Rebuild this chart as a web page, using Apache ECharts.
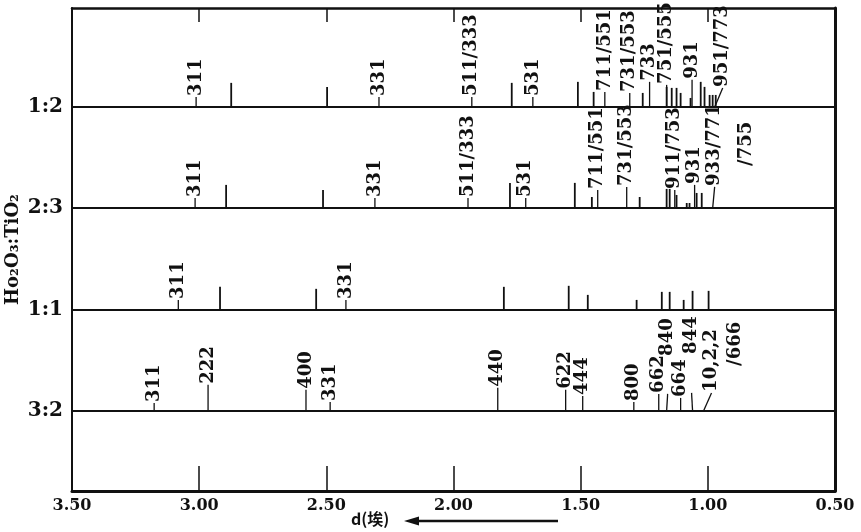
<!DOCTYPE html>
<html>
<head>
<meta charset="utf-8">
<script src="https://cdn.jsdelivr.net/npm/echarts@6.0.0/dist/echarts.min.js"></script>
<style>
  html, body { margin: 0; background: #fff; }
  #chart { width: 861px; height: 532px; }
</style>
</head>
<body>
<div id="chart"></div>
<script>
// Ho2O3:TiO2 ratios, one stick pattern per ratio
const panels = ["1:2", "2:3", "1:1", "3:2"];
const baselines = [3.816, 2.812, 1.799, 0.795];

const xTicks = [3.5, 3.0, 2.5, 2.0, 1.5, 1.0, 0.5];
const xTickLabels = ["3.50", "3.00", "2.50", "2.00", "1.50", "1.00", "0.50"];

// observed lines: d (Å) and relative height
const sticks12D = [2.874, 2.497, 1.771, 1.511, 1.449, 1.256, 1.162, 1.142, 1.123, 1.107, 1.068, 1.028, 1.013, 0.993, 0.981, 0.969];
const sticks12H = [0.24, 0.20, 0.24, 0.25, 0.15, 0.14, 0.20, 0.19, 0.19, 0.14, 0.09, 0.25, 0.20, 0.12, 0.12, 0.12];
const sticks23D = [2.894, 2.513, 1.778, 1.523, 1.456, 1.268, 1.162, 1.150, 1.123, 1.083, 1.072, 1.044, 1.024];
const sticks23H = [0.23, 0.18, 0.25, 0.25, 0.11, 0.11, 0.19, 0.19, 0.13, 0.05, 0.05, 0.15, 0.15];
const sticks11D = [2.918, 2.540, 1.802, 1.547, 1.472, 1.280, 1.181, 1.150, 1.095, 1.060, 0.997];
const sticks11H = [0.23, 0.21, 0.23, 0.24, 0.15, 0.10, 0.18, 0.18, 0.10, 0.19, 0.19];
const sticks32D = [];
const sticks32H = [];

// indexed lines: hkl, d (Å), leader height
const hkl12 = ["311", "331", "511/333", "531", "711/551", "731/553", "733", "751/555", "931", "951/773"];
const hkl12D = [3.012, 2.293, 1.928, 1.688, 1.405, 1.307, 1.229, 1.162, 1.062, 0.973];
const hkl12H = [0.10, 0.10, 0.10, 0.10, 0.15, 0.14, 0.25, 0.22, 0.27, 0.19];
const hkl23 = ["311", "331", "511/333", "531", "711/551", "731/553", "911/753", "931", "933/771"];
const hkl23D = [3.016, 2.309, 1.943, 1.716, 1.433, 1.319, 1.130, 1.052, 0.981];
const hkl23H = [0.10, 0.10, 0.10, 0.10, 0.18, 0.21, 0.18, 0.23, 0.21];
const hkl11 = ["311", "331"];
const hkl11D = [3.082, 2.423];
const hkl11H = [0.10, 0.10];
const hkl32 = ["311", "222", "400", "331", "440", "622", "444", "800", "662", "840", "664", "844", "10,2,2"];
const hkl32D = [3.177, 2.965, 2.580, 2.485, 1.826, 1.559, 1.492, 1.291, 1.193, 1.162, 1.107, 1.060, 1.017];
const hkl32H = [0.08, 0.26, 0.21, 0.09, 0.23, 0.21, 0.15, 0.09, 0.17, 0.17, 0.13, 0.18, 0.18];

// placement tweaks for crowded labels (pixels)
const labelTweaks = {
  "951/773": { dx: 8 },
  "933/771": { dx: 2, extra: { text: "/755", dx: 34, lift: 20 } },
  "840": { dx: 1, lift: 37 },
  "844": { dx: -1, lift: 38 },
  "10,2,2": { dx: 8, extra: { text: "/666", dx: 32, lift: 26 } }
};

const INK = "#111";
const LABEL_FONT = 'bold 18px "DejaVu Serif"';

const stickSets = [[sticks12D, sticks12H], [sticks23D, sticks23H], [sticks11D, sticks11H], [sticks32D, sticks32H]];
const stickData = [];
stickSets.forEach((s, p) => s[0].forEach((d, i) => stickData.push([d, baselines[p], s[1][i]])));

const labelSets = [[hkl12, hkl12D, hkl12H], [hkl23, hkl23D, hkl23H], [hkl11, hkl11D, hkl11H], [hkl32, hkl32D, hkl32H]];
const labelItems = [];
labelSets.forEach((s, p) => s[0].forEach((t, i) => labelItems.push({ value: [s[1][i], baselines[p], s[2][i]], text: t })));

const baseData = baselines.map(b => [3.5, b]);

const renderBase = (params, api) => {
  const b = api.value(1);
  const p0 = api.coord([3.5, b]);
  const p1 = api.coord([0.5, b]);
  return {
    type: "group",
    children: [
      { type: "line", shape: { x1: p0[0], y1: p0[1], x2: p1[0], y2: p1[1] }, style: { stroke: INK, lineWidth: 2 } },
      {
        type: "text", x: p0[0] - 9, y: p0[1],
        style: { text: panels[params.dataIndex], fill: INK, font: 'bold 20px "DejaVu Serif"', align: "right", verticalAlign: "middle" }
      }
    ]
  };
};

const renderStick = (params, api) => {
  const d = api.value(0), b = api.value(1), h = api.value(2);
  const p0 = api.coord([d, b]);
  const p1 = api.coord([d, b + h]);
  return { type: "line", shape: { x1: p0[0], y1: p0[1], x2: p1[0], y2: p1[1] }, style: { stroke: INK, lineWidth: 1.8 } };
};

const rotText = (text, x, y) => ({
  type: "text", x: x, y: y, rotation: Math.PI / 2,
  style: { text: text, fill: INK, font: LABEL_FONT, align: "left", verticalAlign: "middle" }
});

const renderLabel = (params, api) => {
  const d = api.value(0), b = api.value(1), h = api.value(2);
  const text = labelItems[params.dataIndex].text;
  const tw = labelTweaks[text] || {};
  const dx = tw.dx || 0, lift = tw.lift || 0;
  const p0 = api.coord([d, b]);
  const p1 = api.coord([d, b + h]);
  const children = [
    { type: "line", shape: { x1: p0[0], y1: p0[1], x2: p1[0] + dx, y2: p1[1] }, style: { stroke: INK, lineWidth: 1.3 } },
    rotText(text, p1[0] + dx, p1[1] - 1 - lift)
  ];
  if (tw.extra) children.push(rotText(tw.extra.text, p1[0] + tw.extra.dx, p1[1] - 1 - tw.extra.lift));
  return { type: "group", children: children };
};

const chart = echarts.init(document.getElementById("chart"));

chart.setOption({
  animation: false,
  grid: { left: 72, right: 26, top: 8, bottom: 41, containLabel: false, outerBoundsMode: "none" },
  xAxis: [
    {
      type: "value", position: "bottom", inverse: true, min: 0.5, max: 3.5, interval: 0.5,
      axisLine: { onZero: false, lineStyle: { color: INK, width: 3 } },
      axisTick: { inside: true, length: 25, lineStyle: { color: INK, width: 1.5 } },
      axisLabel: {
        margin: 7, color: INK, fontFamily: "DejaVu Serif", fontWeight: "bold", fontSize: 16,
        showMinLabel: true, showMaxLabel: true,
        formatter: v => {
          const i = xTicks.findIndex(t => Math.abs(t - v) < 1e-6);
          return i < 0 ? "" : xTickLabels[i];
        }
      },
      splitLine: { show: false }
    },
    {
      type: "value", position: "top", inverse: true, min: 0.5, max: 3.5, interval: 0.5,
      axisLine: { onZero: false, lineStyle: { color: INK, width: 2.5 } },
      axisTick: { inside: true, length: 14, lineStyle: { color: INK, width: 1.5 } },
      axisLabel: { show: false },
      splitLine: { show: false }
    }
  ],
  yAxis: [
    {
      type: "value", min: 0, max: 4.8, position: "left",
      name: "Ho₂O₃:TiO₂", nameLocation: "middle", nameGap: 50, nameRotate: 90,
      nameTextStyle: { color: INK, fontFamily: "DejaVu Serif", fontWeight: "bold", fontSize: 18 },
      axisLine: { show: true, lineStyle: { color: INK, width: 2 } },
      axisTick: { show: false }, axisLabel: { show: false }, splitLine: { show: false }
    },
    {
      type: "value", min: 0, max: 4.8, position: "right",
      axisLine: { show: true, lineStyle: { color: INK, width: 3 } },
      axisTick: { show: false }, axisLabel: { show: false }, splitLine: { show: false }
    }
  ],
  series: [
    { type: "custom", name: "base", data: baseData, encode: { x: 0, y: 1 }, renderItem: renderBase, clip: false, silent: true },
    { type: "custom", name: "lines", data: stickData, encode: { x: 0, y: 1 }, renderItem: renderStick, silent: true },
    { type: "custom", name: "hkl", data: labelItems, encode: { x: 0, y: 1 }, renderItem: renderLabel, clip: false, silent: true }
  ],
  graphic: [
    { type: "text", left: 351, top: 511, style: { text: "d(埃)", fill: INK, font: 'bold 16px "Noto Sans CJK SC"' } },
    { type: "line", shape: { x1: 414, y1: 521, x2: 558, y2: 521 }, style: { stroke: INK, lineWidth: 2.5 } },
    { type: "polygon", shape: { points: [[404, 521], [419, 516.5], [419, 525.5]] }, style: { fill: INK } }
  ]
});
</script>
</body>
</html>
